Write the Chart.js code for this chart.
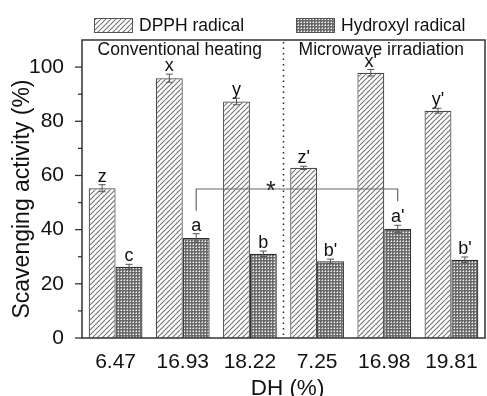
<!DOCTYPE html>
<html>
<head>
<meta charset="utf-8">
<script src="https://cdn.jsdelivr.net/npm/chart.js@4/dist/chart.umd.min.js"></script>
<style>
  html, body { margin: 0; padding: 0; background: #fff; }
  #wrap { width: 487px; height: 396px; position: relative; }
</style>
</head>
<body>
<div id="wrap"><canvas id="c" width="487" height="396"></canvas></div>
<script>
// ---- data ----
const categories = ['6.47', '16.93', '18.22', '7.25', '16.98', '19.81'];
const seriesNames = ['DPPH radical', 'Hydroxyl radical'];
const dpphValues = [55.3, 95.9, 87.3, 62.8, 97.9, 83.9];
const dpphErrors = [1.3, 1.5, 1.2, 0.6, 1.2, 0.9];
const hydroxylValues = [26.3, 36.9, 31.1, 28.3, 40.3, 28.9];
const hydroxylErrors = [0.9, 1.6, 1.0, 0.8, 1.3, 1.0];
const dpphLetters = ['z', 'x', 'y', "z'", "x'", "y'"];
const hydroxylLetters = ['c', 'a', 'b', "b'", "a'", "b'"];
const groupNames = ['Conventional heating', 'Microwave irradiation'];
const groupCenters = [1, 4];       // category index under each group caption
const dividerAfter = 2;            // dotted line after this category
const bracketFrom = 1, bracketTo = 4, bracketValue = 55, bracketLeftEnd = 47, bracketRightEnd = 50.5;
const bracketMark = '*';
const yTicks = [0, 20, 40, 60, 80, 100];
const yMax = 110;
const xTitle = 'DH (%)';
const yTitle = 'Scavenging activity (%)';

// ---- patterns ----
function hatchPattern() {
  const c = document.createElement('canvas');
  c.width = 5; c.height = 5;
  const g = c.getContext('2d');
  g.fillStyle = '#ffffff'; g.fillRect(0, 0, 5, 5);
  g.strokeStyle = '#707070'; g.lineWidth = 1.1;
  for (const o of [-5, 0, 5]) {
    g.beginPath(); g.moveTo(o, 5); g.lineTo(o + 5, 0); g.stroke();
  }
  return g.createPattern(c, 'repeat');
}
function crossPattern() {
  const c = document.createElement('canvas');
  c.width = 3; c.height = 3;
  const g = c.getContext('2d');
  g.fillStyle = '#6a6a6a'; g.fillRect(0, 0, 3, 3);
  g.fillStyle = '#efefef'; g.fillRect(1, 1, 1, 1);
  g.fillStyle = '#b4b4b4'; g.fillRect(0, 1, 1, 1); g.fillRect(1, 0, 1, 1);
  return g.createPattern(c, 'repeat');
}
const pats = [hatchPattern(), crossPattern()];
const borders = ['#4a4a4a', '#2e2e2e'];
const errs = [dpphErrors, hydroxylErrors];
const letters = [dpphLetters, hydroxylLetters];
const FONT = '"Liberation Sans", Arial, sans-serif';
const AX = '#333';

const decorPlugin = {
  id: 'decor',
  afterDatasetsDraw(chart) {
    const ctx = chart.ctx, ca = chart.chartArea;
    const xs = chart.scales.x, ys = chart.scales.y;
    ctx.save();
    // error bars + letters
    chart.data.datasets.forEach((ds, di) => {
      const meta = chart.getDatasetMeta(di);
      meta.data.forEach((bar, i) => {
        const v = ds.data[i], e = errs[di][i];
        const yt = ys.getPixelForValue(v + e), yb = ys.getPixelForValue(v - e);
        ctx.strokeStyle = '#555'; ctx.lineWidth = 1;
        ctx.beginPath();
        ctx.moveTo(bar.x, yt); ctx.lineTo(bar.x, yb);
        ctx.moveTo(bar.x - 3.5, yt); ctx.lineTo(bar.x + 3.5, yt);
        ctx.moveTo(bar.x - 3.5, yb); ctx.lineTo(bar.x + 3.5, yb);
        ctx.stroke();
        ctx.fillStyle = '#111';
        ctx.font = '18px ' + FONT;
        ctx.textAlign = 'center'; ctx.textBaseline = 'alphabetic';
        ctx.fillText(letters[di][i], bar.x, yt - 3);
      });
    });
    // bracket
    const m1 = chart.getDatasetMeta(1);
    const bx1 = m1.data[bracketFrom].x, bx2 = m1.data[bracketTo].x;
    const by = ys.getPixelForValue(bracketValue);
    ctx.strokeStyle = '#666'; ctx.lineWidth = 1.2;
    ctx.beginPath();
    ctx.moveTo(bx1, ys.getPixelForValue(bracketLeftEnd)); ctx.lineTo(bx1, by);
    ctx.lineTo(bx2, by); ctx.lineTo(bx2, ys.getPixelForValue(bracketRightEnd));
    ctx.stroke();
    ctx.fillStyle = '#222'; ctx.font = '25px ' + FONT; ctx.textAlign = 'center';
    ctx.fillText(bracketMark, (bx1 + bx2) / 2 - 26, by + 10);
    // divider
    const dx = (xs.getPixelForValue(dividerAfter) + xs.getPixelForValue(dividerAfter + 1)) / 2;
    ctx.strokeStyle = '#222'; ctx.lineWidth = 1.5; ctx.setLineDash([1.5, 4]);
    ctx.beginPath(); ctx.moveTo(dx, ca.top + 2); ctx.lineTo(dx, ca.bottom); ctx.stroke();
    ctx.setLineDash([]);
    // group captions
    ctx.font = '17.5px ' + FONT; ctx.fillStyle = '#111'; ctx.textBaseline = 'alphabetic';
    groupNames.forEach((g, k) => {
      ctx.fillText(g, xs.getPixelForValue(groupCenters[k]) - 3, ca.top + 15);
    });
    // frame
    ctx.strokeStyle = AX; ctx.lineWidth = 1.5;
    ctx.strokeRect(ca.left, ca.top, ca.right - ca.left, ca.bottom - ca.top);
    // y tick marks (major & minor)
    ctx.lineWidth = 1.3;
    for (let v = 0; v < yMax; v += 10) {
      const y = ys.getPixelForValue(v);
      const len = yTicks.includes(v) ? 7 : 4;
      ctx.beginPath(); ctx.moveTo(ca.left - len, y); ctx.lineTo(ca.left, y); ctx.stroke();
    }
    // legend
    ctx.font = '17.5px ' + FONT; ctx.textAlign = 'left'; ctx.textBaseline = 'middle';
    const lx = [94, 296];
    chart.data.datasets.forEach((ds, di) => {
      ctx.fillStyle = pats[di];
      ctx.fillRect(lx[di], 18.5, 39, 14);
      ctx.strokeStyle = '#555'; ctx.lineWidth = 1;
      ctx.strokeRect(lx[di] + 0.5, 18.5, 38, 14);
      ctx.fillStyle = '#111';
      ctx.fillText(ds.label, lx[di] + 45, 26);
    });
    // axis titles
    ctx.font = '22.5px ' + FONT; ctx.textAlign = 'center'; ctx.textBaseline = 'middle';
    ctx.fillText(xTitle, (ca.left + ca.right) / 2 + 4, 389);
    ctx.save();
    ctx.translate(23, 199); ctx.rotate(-Math.PI / 2);
    ctx.font = '23px ' + FONT;
    ctx.fillText(yTitle, 0, 0);
    ctx.restore();
    ctx.restore();
  }
};

new Chart(document.getElementById('c'), {
  type: 'bar',
  data: {
    labels: categories,
    datasets: [
      { label: seriesNames[0], data: dpphValues, backgroundColor: pats[0], borderColor: borders[0], borderWidth: 1.2 },
      { label: seriesNames[1], data: hydroxylValues, backgroundColor: pats[1], borderColor: borders[1], borderWidth: 1.2 }
    ]
  },
  options: {
    responsive: false,
    animation: false,
    devicePixelRatio: 1,
    layout: { padding: { top: 40, right: 2, left: 0, bottom: 0 } },
    datasets: { bar: { categoryPercentage: 0.8, barPercentage: 1.0 } },
    plugins: { legend: { display: false }, tooltip: { enabled: false } },
    scales: {
      x: {
        afterFit(s) { s.height = 58; },
        grid: { display: false },
        border: { display: false },
        ticks: { font: { family: FONT, size: 21 }, color: '#111', padding: 4, maxRotation: 0 }
      },
      y: {
        min: 0, max: yMax,
        afterFit(s) { s.width = 82; },
        afterBuildTicks(s) { s.ticks = yTicks.map(v => ({ value: v })); },
        grid: { display: false },
        border: { display: false },
        ticks: { font: { family: FONT, size: 21 }, color: '#111', padding: 10 }
      }
    }
  },
  plugins: [decorPlugin]
});
</script>
</body>
</html>
